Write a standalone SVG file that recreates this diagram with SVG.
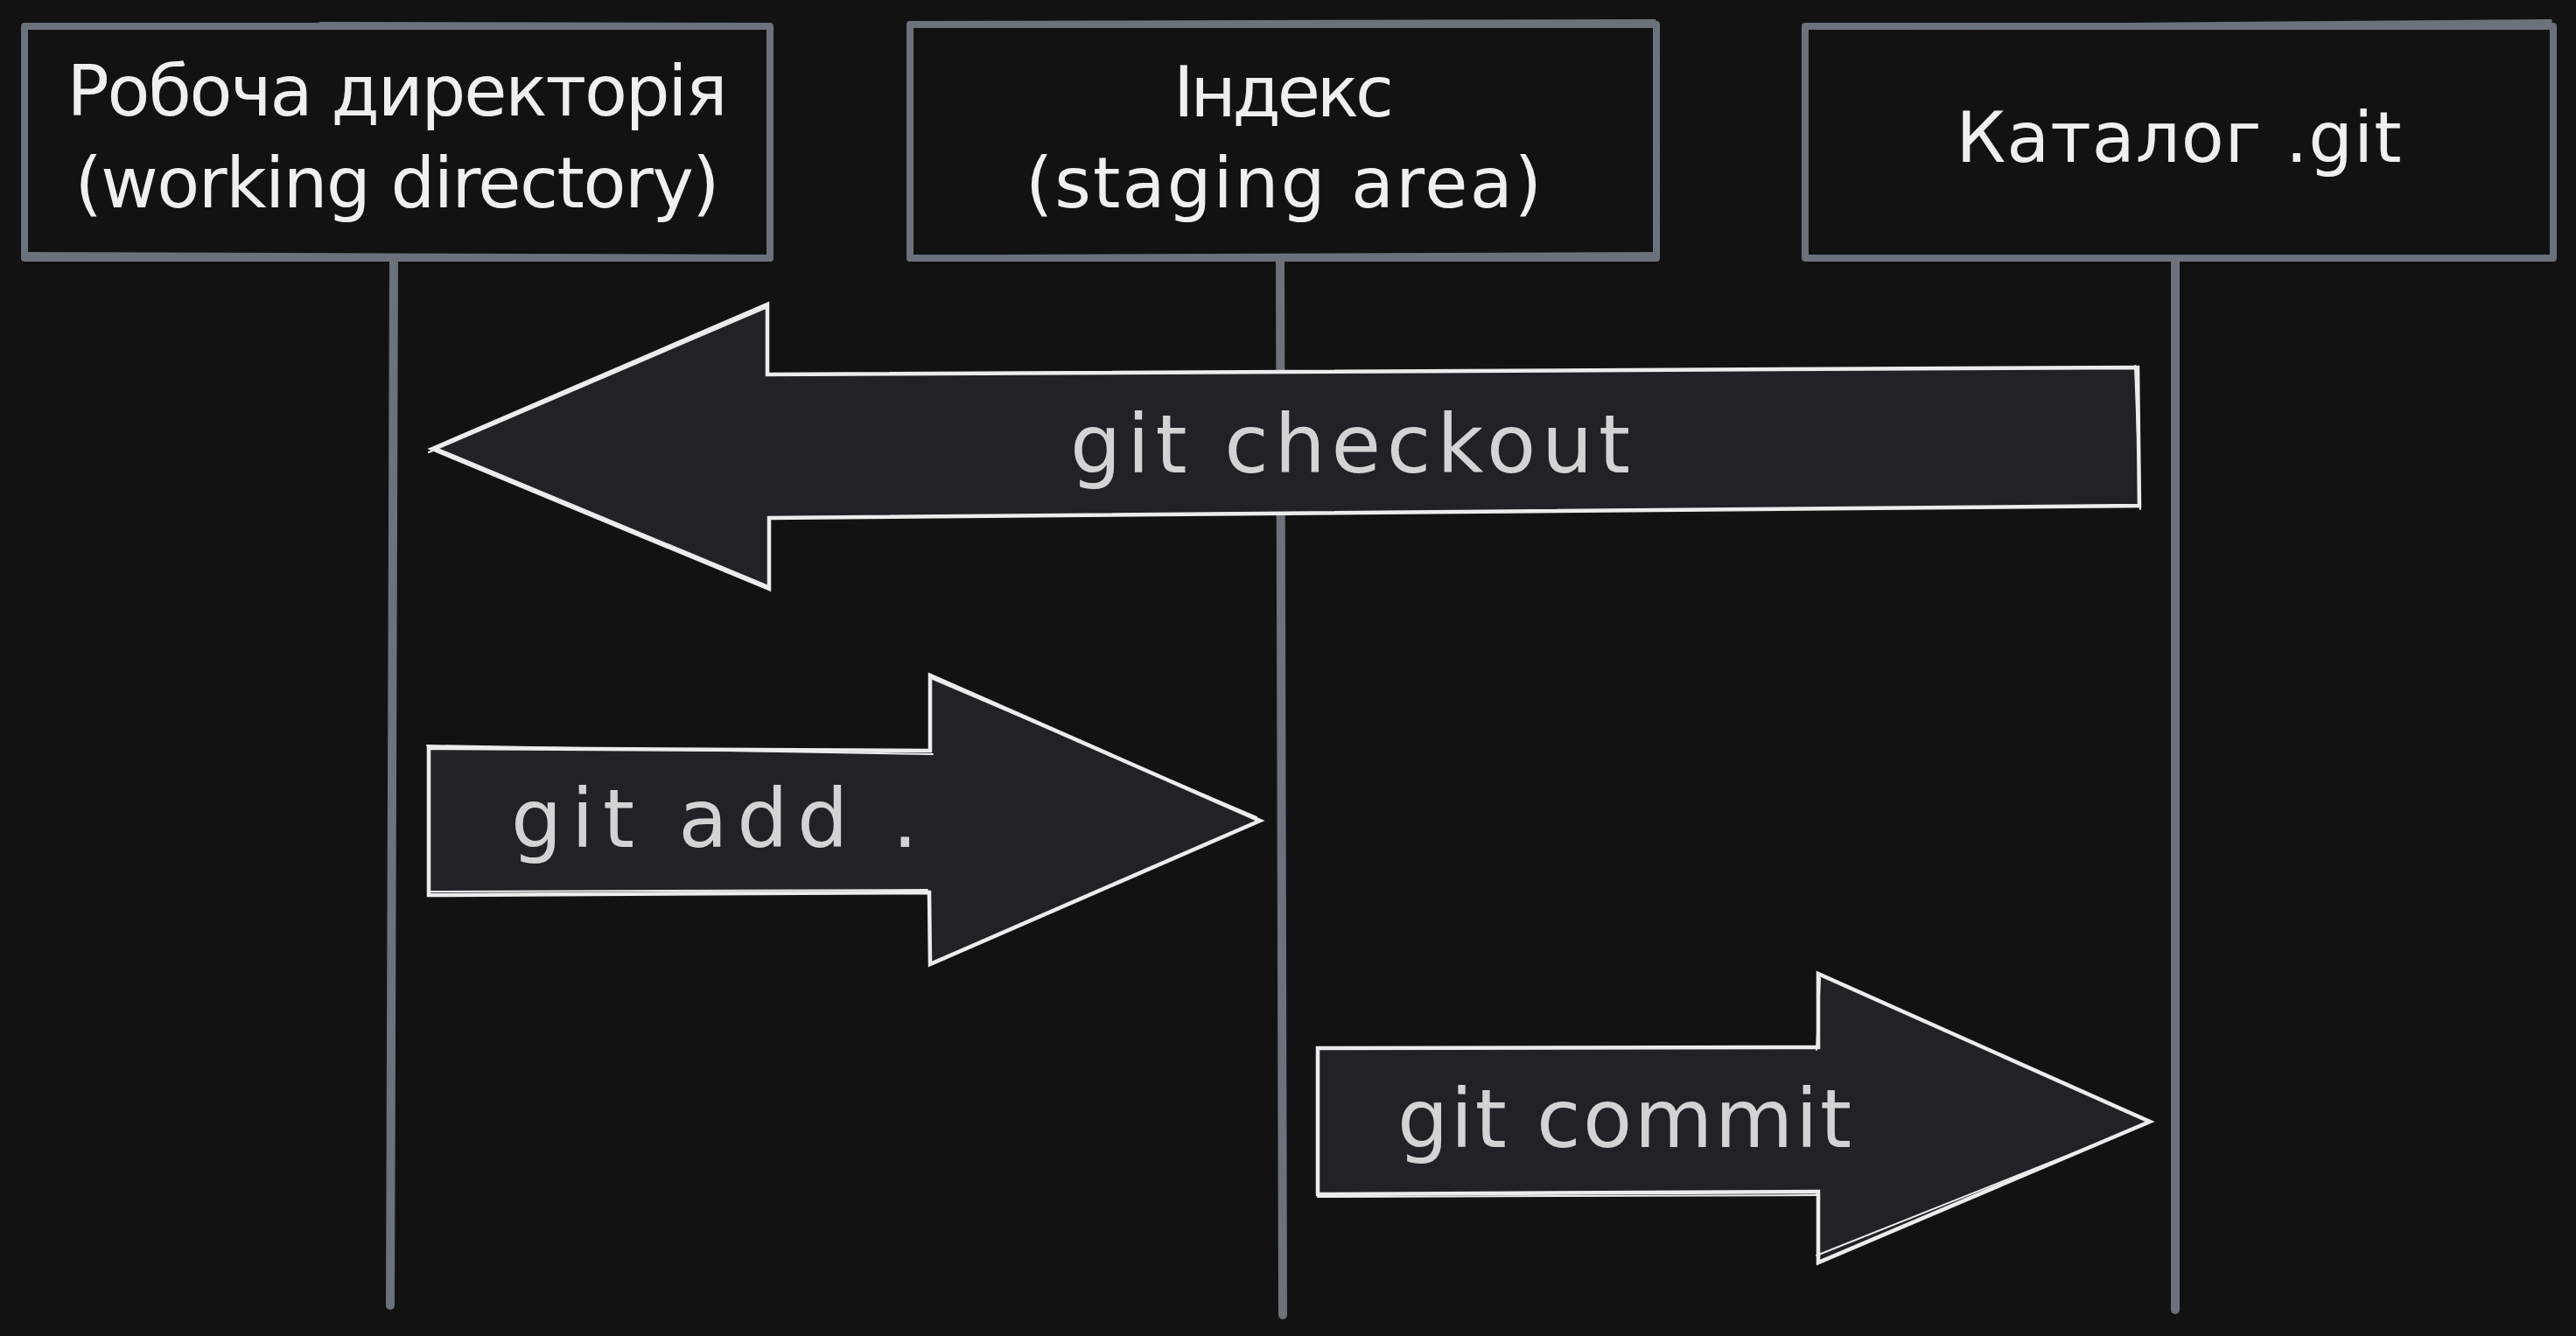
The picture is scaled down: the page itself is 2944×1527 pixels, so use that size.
<svg xmlns="http://www.w3.org/2000/svg" width="2944" height="1527" viewBox="0 0 2944 1527">
<style>
.bg{fill:#121212}
.box{fill:#121212;stroke:#6b727b;stroke-width:8;stroke-linejoin:round;stroke-linecap:round}
.sk{fill:none;stroke:#6b727b;stroke-width:4;stroke-linecap:round}
.life{stroke:#6b727b;stroke-width:10;stroke-linecap:round;fill:none}
.arr{fill:#212226;stroke:#ececec;stroke-width:4.5;stroke-linejoin:miter}
.ask{fill:none;stroke:#ececec;stroke-width:2;stroke-linecap:round}
.bt{font-family:"DejaVu Sans","Noto Sans",sans-serif;font-size:80px;fill:#efefef;text-anchor:middle}
.at{font-family:"DejaVu Sans","Noto Sans",sans-serif;font-size:92px;fill:#d3d3d3}
</style>
<rect class="bg" x="0" y="0" width="2944" height="1527"/>
<g id="connectors">
<path class="life" d="M450 295 L446 1492"/>
<path class="life" d="M1463 295 L1466 1503"/>
<path class="life" d="M2486 295 L2486 1497"/>
</g>
<g id="node-working">
<rect class="box" x="28" y="30" width="852" height="265"/>
<path class="sk" d="M366 27 L880 28 M26 290 L882 293"/>
<text class="bt" x="454" y="132" textLength="755">Робоча директорія</text>
<text class="bt" x="454" y="237" textLength="737">(working directory)</text>
</g>
<g id="node-index">
<rect class="box" x="1040" y="28" width="853" height="267"/>
<path class="sk" d="M1040 26 L1891 24 M1143 293 L1891 290 M1893 30 L1895 292"/>
<text class="bt" x="1467" y="133" textLength="252">Індекс</text>
<text class="bt" x="1467" y="237" textLength="590">(staging area)</text>
</g>
<g id="node-git">
<rect class="box" x="2063" y="30" width="855" height="265"/>
<path class="sk" d="M2205 28 L2600 28 M2063 31 L2915 24"/>
<text class="bt" x="2490" y="185" textLength="509">Каталог .git</text>
</g>
<g id="arrow-checkout">
<polygon class="arr" points="494,513 877,348 877,428 2443,420 2445,578 879,592 879,673"/>
<path class="ask" d="M490 517 L875 352 M498 512 L876 669 M2440 418 L2446 582"/>
<text class="at" x="1223" y="540" textLength="640">git checkout</text>
</g>
<g id="arrow-add">
<polygon class="arr" points="490,855 1063,858 1063,772 1440,938 1063,1102 1062,1020 490,1023"/>
<path class="ask" d="M488 852 L1066 862 M492 1019 L1060 1017 M1066 776 L1436 934"/>
<text class="at" x="584" y="968" textLength="465">git add .</text>
</g>
<g id="arrow-commit">
<polygon class="arr" points="1506,1198 2078,1197 2078,1113 2457,1282 2078,1443 2078,1362 1506,1365"/>
<path class="ask" d="M1506 1368 L2076 1366 M2076 1435 L2455 1284 M2080 1118 L2076 1200"/>
<text class="at" x="1597" y="1311" textLength="519">git commit</text>
</g>
</svg>
